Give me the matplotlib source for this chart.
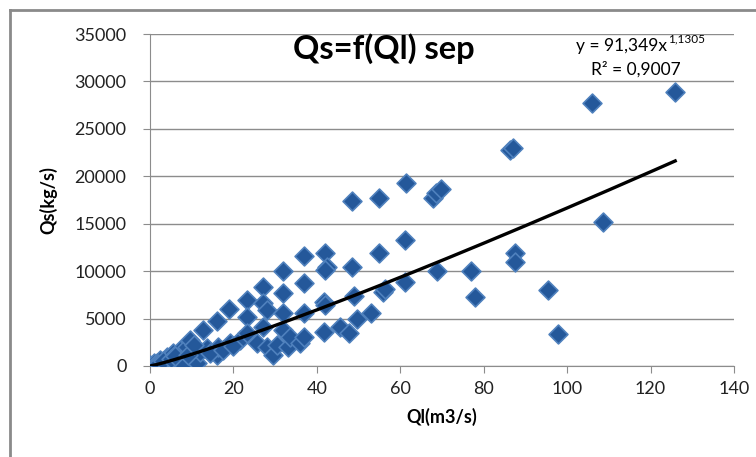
import numpy as np
import matplotlib
matplotlib.use("Agg")
import matplotlib.pyplot as plt
from matplotlib.lines import Line2D

plt.rcParams['font.family'] = ['Lato', 'DejaVu Sans']

# Ql (m3/s) and Qs (kg/s)
ql = [0, 0.3, 1, 1.6, 2.5, 3.2, 4, 4.8, 5.6, 6.4, 7.2, 8, 8.8, 9.6, 10, 11.2,
      12, 12.8, 13.6, 16.1, 16.1, 16.4, 19, 19.2, 21.6, 23.2, 23.2, 23.2, 25.6,
      27.2, 27.2, 28, 27.2, 28, 29.6, 30.4, 32, 32, 32, 32, 33.2, 33.6, 36,
      36.8, 36.8, 36.8, 36.9, 42, 42.4, 42, 41.7, 42, 41.6, 45.6, 47.8, 48.4,
      48.4, 48.8, 49.7, 53, 54.9, 54.9, 55.8, 56.3, 61.4, 61.2, 61.2, 67.9,
      68.5, 69.8, 68.7, 76.9, 78, 86.4, 87, 87.5, 87.5, 95.4, 97.9, 105.9,
      108.7, 125.9, 2, 3, 5, 6, 9, 10.5, 14.5, 17.5, 20]
qs = [100, 30, 350, 280, 600, 450, 980, 630, 1340, 980, 1690, 100, 2030, 2740,
      810, 280, 1500, 3790, 1860, 4770, 1160, 2030, 5970, 2390, 2740, 6950,
      5120, 3440, 2460, 8290, 6600, 5900, 4140, 2030, 1160, 2210, 10040, 7650,
      5550, 3790, 2030, 3090, 2390, 11590, 8710, 5550, 3090, 11870, 10400,
      10100, 6780, 6400, 3620, 4140, 3440, 17420, 10470, 7380, 4920, 5550,
      17670, 11940, 7830, 8100, 19320, 13280, 8890, 17700, 18200, 18700, 10040,
      10040, 7250, 22800, 23000, 11870, 10930, 8010, 3370, 27750, 15210, 28840,
      200, 500, 700, 1100, 1200, 2200, 1400, 1700, 2100]

# power trendline shown on the chart
coef_a = 91.349
coef_b = 1.1305

W, H = 756, 457
fig = plt.figure(figsize=(W / 100, H / 100), dpi=100)
ax = fig.add_axes([150 / W, 1 - 366 / H, 584 / W, 332 / H])

ax.scatter(ql, qs, marker='D', s=92, facecolor='#24589A',
           edgecolor='#4F81BD', linewidth=1.2, zorder=3)

xt = np.linspace(0.3, max(ql), 200)
ax.plot(xt, coef_a * xt ** coef_b, color='black', lw=2.4, zorder=4)

ax.set_xlim(0, 140)
ax.set_ylim(0, 35000)
ax.set_xticks(range(0, 141, 20))
ax.set_yticks(range(0, 35001, 5000))
ax.yaxis.grid(True, color='#8c8c8c', lw=1)
ax.set_axisbelow(True)
for s in ['top', 'right']:
    ax.spines[s].set_visible(False)
for s in ['left', 'bottom']:
    ax.spines[s].set_color('#8c8c8c')
ax.tick_params(axis='both', colors='#8c8c8c', labelcolor='#222222',
               labelsize=13, length=5, direction='out')
ax.tick_params(axis='y', pad=12)
ax.tick_params(axis='x', pad=6)

ax.set_xlabel('Ql(m3/s)', fontsize=13, fontweight='bold', labelpad=8)
ax.set_ylabel('Qs(kg/s)', fontsize=13, fontweight='bold', labelpad=12)

fig.text(384 / W, 1 - 49 / H, 'Qs=f(Ql) sep', fontsize=23.5, fontweight='bold',
         ha='center', va='center')
fig.text(667 / W, 1 - 46 / H, 'y = 91,349x', fontsize=12.5, ha='right',
         va='center')
fig.text(668 / W, 1 - 39 / H, '1,1305', fontsize=8.5, ha='left', va='center')
fig.text(636 / W, 1 - 69 / H, 'R\u00b2 = 0,9007', fontsize=12.5,
         ha='center', va='center')

# outer chart frame
fig.add_artist(Line2D([10 / W, 10 / W], [0, 1 - 10 / H], color='#8a8a8a',
                      lw=2, transform=fig.transFigure))
fig.add_artist(Line2D([10 / W, 1], [1 - 10 / H, 1 - 10 / H], color='#8a8a8a',
                      lw=2, transform=fig.transFigure))

fig.savefig('out.png', dpi=100)
